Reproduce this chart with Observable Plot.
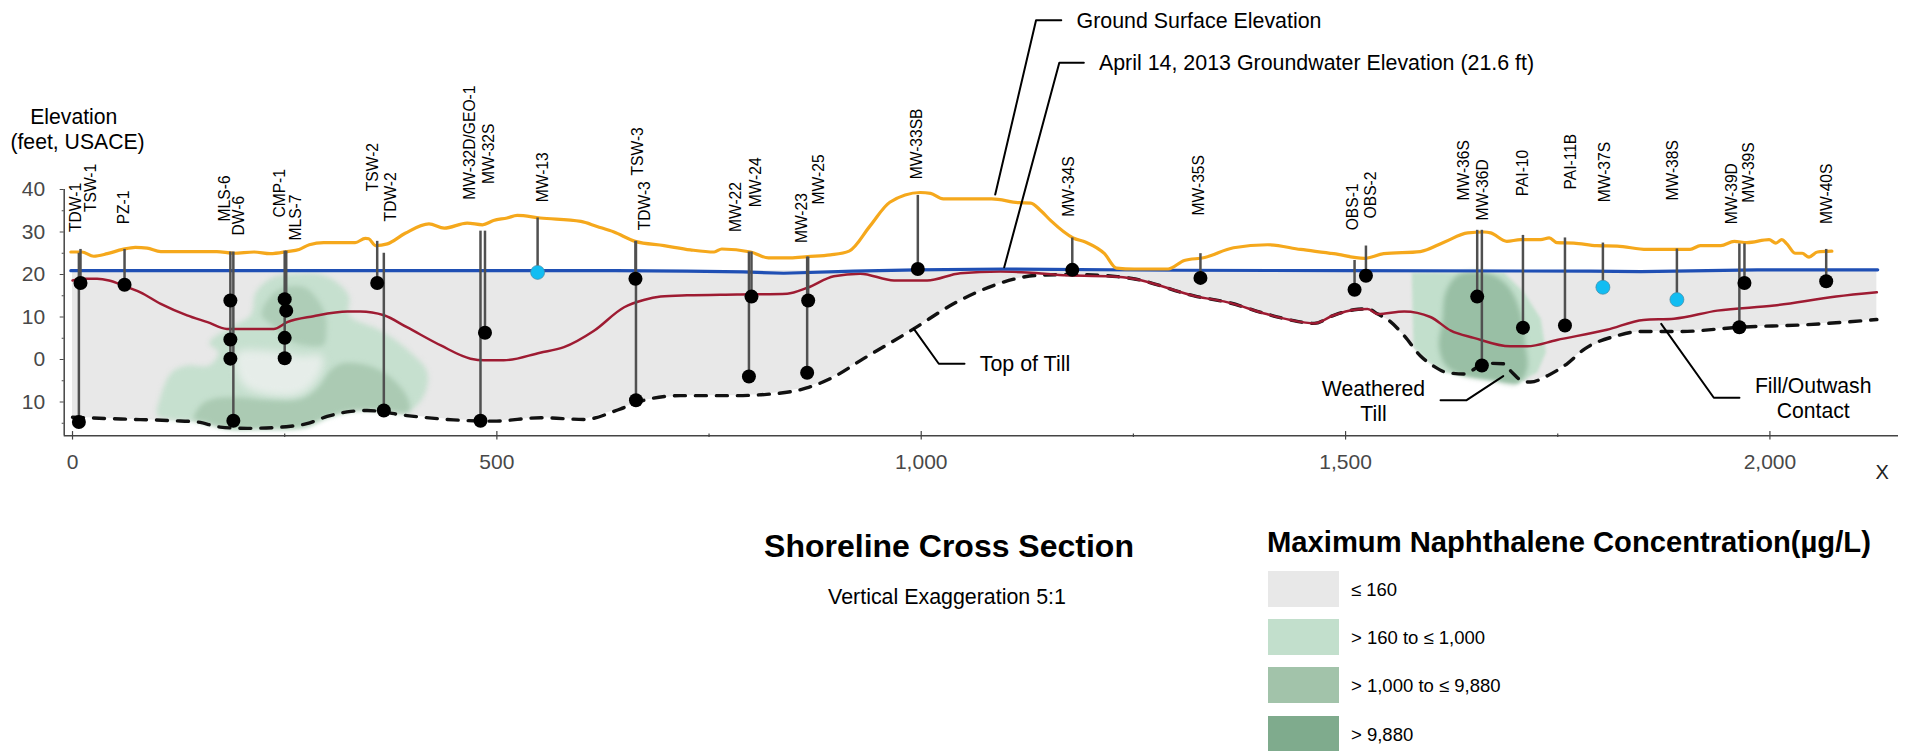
<!DOCTYPE html>
<html><head><meta charset="utf-8">
<script src="https://cdn.jsdelivr.net/npm/d3@7"></script>
<script src="https://cdn.jsdelivr.net/npm/@observablehq/plot@0.6"></script>
<style>
html,body{margin:0;padding:0;background:#fff;overflow:hidden;width:1911px;height:751px;font-family:"Liberation Sans",Arial,sans-serif;color:#000}
#chart{position:absolute;left:0;top:0;width:1911px;height:500px}
#below{position:absolute;left:0;top:500px;width:1911px;height:251px;overflow:hidden}
#below div{position:absolute;white-space:nowrap}
.sw{width:71px;height:36px;left:1268px}
.lb{left:1351px;font-size:18.5px;line-height:38px}
</style></head><body>
<div id="chart"></div>
<div id="below">
  <div id="t1" style="left:649px;width:600px;text-align:center;top:28px;font-size:32px;font-weight:bold;line-height:36px">Shoreline Cross Section</div>
  <div id="t2" style="left:647px;width:600px;text-align:center;top:85px;font-size:21.4px;line-height:24px">Vertical Exaggeration 5:1</div>
  <div id="t3" style="left:1267px;top:24px;font-size:29.2px;font-weight:bold;line-height:36px">Maximum Naphthalene Concentration(µg/L)</div>
  <div id="legend"></div>
</div>
<script>
// ---- section profiles (distance in ft along X, elevation in ft USACE)
const groundX = [-2,11,25,41,59,74,88,104,139,170,190,214,233,253,267,279,296,333,345,349,357,371,392,420,438,465,483,496,512,524,551,599,618,638,663,697,728,756,765,799,820,846,866,893,915,940,963,999,1011,1026,1083,1115,1129,1141,1153,1179,1194,1216,1230,1251,1291,1310,1334,1368,1408,1447,1486,1522,1545,1588,1616,1644,1663,1671,1690,1706,1730,1740,1749,1769,1796,1820,1855,1887,1906,1918,1942,1958,1973,1999,2007,2014,2020,2030,2038,2046,2056,2073];
const groundY = [25.3,25.3,24.3,24.9,25.9,26.4,26.2,25.4,25.4,25.4,25,25.3,24.9,25.4,25.9,27,27.5,27.5,28.5,28.4,26.8,27.2,29.7,31.9,30.9,32.1,31.7,32.7,33.3,33.9,33.3,32.5,31.3,30,27.8,26.8,25.8,25.3,26,25.3,23.9,23.9,24.2,24.6,25.5,31.5,37,39.3,39.1,37.8,37.8,36.9,36.8,35,32.6,28.6,27.6,24.9,21.5,21.3,21.3,23.3,24,26.3,27,25.9,24.9,23.8,24.9,25.4,27.6,29.8,30,29.8,27.8,28.2,28.2,28.6,27.5,27.4,26.8,26.7,25.9,25.9,25.9,26.8,26.8,27.8,27.5,28.2,27.4,28.2,27.2,25,25,24.1,25.3,25.5];
const waterX = [-2,300,640,724,790,838,920,995,1097,1300,1500,1789,1848,1985,2127];
const waterY = [20.9,20.9,20.9,20.8,20.6,20.3,20.8,21.1,21.3,21.0,20.9,20.8,20.7,21.1,21.1];
const fillX = [0,13,29,43,60,80,104,135,159,182,237,253,284,324,339,367,394,434,469,485,508,551,579,614,650,673,693,724,783,842,866,897,928,968,1007,1046,1093,1125,1172,1231,1250,1325,1360,1407,1435,1463,1486,1510,1526,1538,1569,1600,1624,1651,1694,1714,1749,1808,1851,1887,1938,2005,2078,2126];
const fillY = [18.6,19,19,18.6,17.4,15.8,13.1,10.4,8.8,7.2,7.2,8.8,10.2,11.3,11.3,10.4,7.6,3.3,0.2,-0.2,-0.2,1.6,2.9,6.7,12.3,14,14.8,15.1,15.3,15.5,16.9,19.6,20.2,18.6,18.6,20.3,20.7,20.5,19.8,19.5,19,14.8,13.5,10.7,9.3,8.5,10.4,11.7,11.9,10.7,11.3,10,6.8,5.1,3.1,3.1,4.6,7,9.3,9.6,11.5,12.7,14.8,15.8];
const tillX = [0,57,119,147,174,206,257,276,300,328,347,394,449,496,552,603,646,673,716,779,818,865,893,932,991,1038,1085,1109,1137,1178,1231,1250,1325,1360,1407,1435,1463,1486,1510,1526,1538,1551,1569,1588,1604,1620,1640,1659,1673,1686,1696,1710,1718,1738,1761,1781,1820,1847,1895,1965,2044,2126];
const tillY = [-13.6,-14,-14.4,-14.7,-15.9,-16.2,-15.7,-15.1,-13.4,-12.2,-12,-13.2,-14.2,-14.5,-13.7,-14.1,-11.6,-9.6,-8.5,-8.5,-8.2,-6.7,-4.5,0.2,7.2,13.1,17.4,18.9,19.8,20,19.5,19,14.8,13.5,10.7,9.3,8.5,10.4,11.7,11.9,10.7,9.2,5.6,0.9,-1.6,-3.1,-3.4,-1.4,-0.9,-1,-3,-5.2,-5.3,-3.8,-1,2.4,5.6,6.6,6.6,7.6,8.2,9.4];

// ---- concentration zones [distance, elevation]
const zoneLowLeft = [[100,-13.2],[104,-8.5],[117,-3],[135,-1.4],[161,-1.4],[172,1.7],[161,3.9],[186,7.6],[210,10.4],[216,15.8],[237,19.4],[269,20.2],[296,19.8],[316,17.4],[326,14.7],[326,10.4],[363,6.8],[398,1.7],[418,-3],[414,-8.5],[394,-12.4],[367,-12],[331,-12],[300,-13.6],[273,-15.9],[221,-16.3],[186,-16.3],[147,-14.7],[111,-14]];
const zoneGap = [[192,-1.4],[194,1.7],[229,2.1],[269,0.9],[294,0.9],[294,-2.2],[280,-6.5],[261,-8.5],[225,-8.1],[202,-6.1]];
const zoneMidLeftLower = [[143,-14],[151,-10.8],[165,-9.3],[190,-8.9],[237,-9.6],[269,-9.3],[288,-6.9],[304,-2.6],[316,-1],[339,-1],[363,-2.6],[383,-5.7],[396,-9.6],[396,-12.4],[367,-12],[331,-12],[300,-13.6],[273,-15.9],[221,-16.3],[186,-16.3],[155,-14.7]];
const zoneMidLeftUpper = [[223,10.4],[231,14.3],[247,16.8],[273,17],[288,14.3],[298,10.4],[299,6.4],[296,3.5],[265,3.7],[247,5.6],[237,7.8]];
const zoneLowRight = [[1578,20.5],[1687,20.4],[1710,15.8],[1730,9.6],[1736,1.7],[1726,-3],[1702,-5.7],[1671,-4.9],[1639,-3.8],[1616,-3],[1598,-0.6],[1580,2.9]];
const zoneHighRight = [[1614,8.8],[1618,15.8],[1632,19.8],[1651,20.7],[1675,19.8],[1694,16.6],[1706,11.1],[1712,3.3],[1714,-2.2],[1702,-5.7],[1671,-4.9],[1639,-3.8],[1618,-1.4],[1610,3.3]];

// ---- wells
const wellNames = ["TDW-1","TSW-1","PZ-1","MLS-6","DW-6","CMP-1","MLS-7","TSW-2","TDW-2","MW-32D/GEO-1","MW-32S","MW-13","TSW-3","TDW-3","MW-22","MW-24","MW-23","MW-25","MW-33SB","MW-34S","MW-35S","OBS-1","OBS-2","MW-36S","MW-36D","PAI-10","PAI-11B","MW-37S","MW-38S","MW-39D","MW-39S","MW-40S"];
const wellX = [7.5,9.4,61.3,186,189.5,250,251.8,359,366.8,480.7,486,548,663.3,663.9,797,800,865.6,866.8,996,1178,1329,1510.6,1524,1655.1,1660.6,1709,1758.5,1803.2,1890.4,1964,1970,2066.3];
const wellTop = [25,25.9,25.9,25.3,25.3,25.5,25.5,27.8,25,30.2,30.2,33.3,27.8,27.8,25.3,25.3,24.1,24.1,38.6,28.6,24.9,23.3,26.7,30.4,30.4,29.2,28.6,27.4,26,27.2,27.2,25.9];
const wellBottom = [-14.7,18,17.6,0.2,-14.4,0.3,11.5,18,-12,-14.4,6.3,20.5,19,-9.6,-4,14.8,-3.1,13.9,21.3,21.1,19.2,16.4,19.7,14.8,-1.4,7.5,8,17,14.1,7.6,18,18.4];
const labelX = [4.1,21.9,60.4,179.7,196.5,244.6,262.8,354.3,375.4,468.2,490.4,554.9,666.4,674.6,781.8,805.4,859.7,879,995.6,1173.6,1327.2,1508.7,1530,1639,1662.2,1708.5,1765.5,1805.1,1886.2,1955.9,1975.6,2067.5];
const labelY = [30,34.7,31.8,32.5,29.2,33.4,28,39.6,32.5,37.6,41.3,37,43.3,30.4,30,35.8,27.4,36.5,42.4,33.6,33.9,30.4,33.2,37.4,32.7,38.4,40,37,37.4,31.8,36.9,31.9];
const sampleX = [7.5,9.4,61.3,186,186,186,189.5,250,250,250,251.8,359,366.8,480.7,486,663.3,663.9,797,800,865.6,866.8,996,1178,1329,1510.6,1524,1655.1,1660.6,1709,1758.5,1964,1970,2066.3];
const sampleY = [-14.7,18,17.6,13.9,4.7,0.2,-14.4,14.2,5.1,0.3,11.5,18,-12,-14.4,6.3,19,-9.6,-4,14.8,-3.1,13.9,21.3,21.1,19.2,16.4,19.7,14.8,-1.4,7.5,8,7.6,18,18.4];
const cleanX = [548,1803.2,1890.4];
const cleanY = [20.5,17,14.1];

// ---- annotations
const calloutTexts = ["Ground Surface Elevation","April 14, 2013 Groundwater Elevation (21.6 ft)","Top of Till"];
const calloutX = [1183,1209.4,1069];
const calloutY = [77.9,68,-2.75];
const centredTexts = ["Weathered","Till","Fill/Outwash","Contact","Elevation","(feet, USACE)"];
const centredX = [1532.9,1532.9,2051,2051,1.5,5.9];
const centredY = [-8.6,-14.4,-7.9,-13.7,55.3,49.6];
const leaders = [
  [[1165,79.8],[1135.3,79.8],[1087.2,38.8]],
  [[1191.6,69.8],[1162.7,69.8],[1097.8,21.7]],
  [[991.3,7.2],[1020.7,-1],[1051,-1]],
  [[1611.9,-9.6],[1642.2,-9.6],[1685.8,-3.9]],
  [[1871.9,8.4],[1933.9,-9],[1964.1,-9]]
];
const legendLabels = ["≤ 160","> 160 to ≤ 1,000","> 1,000 to ≤ 9,880","> 9,880"];
const zoneColors = ["#e8e8e8","#c2dfcc","#a2c3aa","#7fab8d"];
const xMajor = [0,500,1000,1500,2000];
const xMinor = [250,750,1250,1750];
const yMajor = [40,30,20,10,0,-10];
const yMinor = [35,25,15,5,-5,-15];

const zip = (xs, ys) => xs.map((x, i) => ({x, y: ys[i]}));
const ground = zip(groundX, groundY), water = zip(waterX, waterY), fill = zip(fillX, fillY), till = zip(tillX, tillY);
const wells = wellNames.map((name, i) => ({name, x: wellX[i], top: wellTop[i], bottom: wellBottom[i], lx: labelX[i], ly: labelY[i]}));
const zone = (pts, color, opts = {}) => Plot.line(pts, {x: d => d[0], y: d => d[1], fill: color, stroke: "none", curve: "catmull-rom-closed", imageFilter: "blur(2.5px)", ...opts});
const axisInk = "#444";
const xMin = -9.8, yMin = -17.95;

const chart = Plot.plot({
  width: 1911, height: 500,
  marginLeft: 63.7, marginRight: 13, marginTop: 189, marginBottom: 64.7,
  x: {domain: [xMin, 2151.5]},
  y: {domain: [yMin, 40]},
  style: {fontFamily: "'Liberation Sans', Arial, sans-serif", color: "#484848", background: "#fff", overflow: "visible"},
  marks: [
    Plot.areaY(till, {x: "x", y1: "y", y2: () => 20.9, fill: zoneColors[0]}),
    zone(zoneLowLeft, zoneColors[1], {fillOpacity: 0.9}),
    zone(zoneGap, "#e6ede9", {imageFilter: "blur(4px)"}),
    zone(zoneMidLeftLower, zoneColors[2], {fillOpacity: 0.75}),
    zone(zoneMidLeftUpper, zoneColors[2], {fillOpacity: 0.65}),
    zone(zoneLowRight, zoneColors[1], {curve: "linear", imageFilter: "blur(1.5px)"}),
    zone(zoneHighRight, zoneColors[3], {fillOpacity: 0.62}),
    Plot.line(till, {x: "x", y: "y", stroke: "#111", strokeWidth: 3.4, strokeDasharray: "11,10", curve: "monotone-x"}),
    Plot.line(fill, {x: "x", y: "y", stroke: "#9e1b32", strokeWidth: 2.5, curve: "monotone-x"}),
    Plot.line(water, {x: "x", y: "y", stroke: "#1f4fb4", strokeWidth: 3.2}),
    Plot.line(ground, {x: "x", y: "y", stroke: "#f5a81c", strokeWidth: 3.2, curve: "monotone-x"}),
    Plot.ruleX(wells, {x: "x", y1: "top", y2: "bottom", stroke: "#505050", strokeWidth: 2.5}),
    ...leaders.map(l => Plot.line(l, {x: d => d[0], y: d => d[1], stroke: "#000", strokeWidth: 2})),
    Plot.dot(zip(sampleX, sampleY), {x: "x", y: "y", r: 7, fill: "#000", stroke: "none"}),
    Plot.dot(zip(cleanX, cleanY), {x: "x", y: "y", r: 7, fill: "#12bdf2", stroke: "#4b8aa3", strokeWidth: 0.7}),
    Plot.text(wells, {x: "lx", y: "ly", text: "name", rotate: -90, textAnchor: "start", lineAnchor: "middle", fontSize: 15.6, fill: "#000"}),
    Plot.text(calloutTexts, {x: (d, i) => calloutX[i], y: (d, i) => calloutY[i], text: d => d, textAnchor: "start", lineAnchor: "bottom", fontSize: 21.4, fill: "#000"}),
    Plot.text(centredTexts, {x: (d, i) => centredX[i], y: (d, i) => centredY[i], text: d => d, textAnchor: "middle", lineAnchor: "bottom", fontSize: 21.2, fill: "#000"}),
    Plot.text(["X"], {x: [2132.3], y: [-28], text: d => d, textAnchor: "middle", lineAnchor: "bottom", fontSize: 20, fill: "#222"}),
    Plot.ruleY([yMin], {stroke: axisInk, strokeWidth: 1.5}),
    Plot.ruleX([xMin], {y1: yMin, y2: 40, stroke: axisInk, strokeWidth: 1.5}),
    Plot.ruleX(xMajor, {y1: yMin - 1, y2: yMin + 1, stroke: axisInk, strokeWidth: 1.2}),
    Plot.ruleX(xMinor, {y1: yMin - 0.4, y2: yMin + 0.4, stroke: axisInk, strokeWidth: 1.2}),
    Plot.axisX({ticks: xMajor, tickFormat: d3.format(","), tickSize: 0, tickPadding: 18, fontSize: 21, label: null}),
    Plot.axisY({ticks: yMajor, tickFormat: d => Math.abs(d), tickSize: 4, tickPadding: 15, fontSize: 21, label: null}),
    Plot.axisY({ticks: yMinor, tickSize: 2, text: null, label: null})
  ]
});
document.getElementById("chart").append(chart);

const legend = document.getElementById("legend");
const swatchTops = [71, 119, 167, 216];
legendLabels.forEach((t, i) => {
  const s = document.createElement("div"); s.className = "sw"; s.style.top = swatchTops[i] + "px"; s.style.background = zoneColors[i];
  const l = document.createElement("div"); l.className = "lb"; l.style.top = swatchTops[i] + "px"; l.textContent = t;
  legend.append(s, l);
});
</script>
</body></html>
